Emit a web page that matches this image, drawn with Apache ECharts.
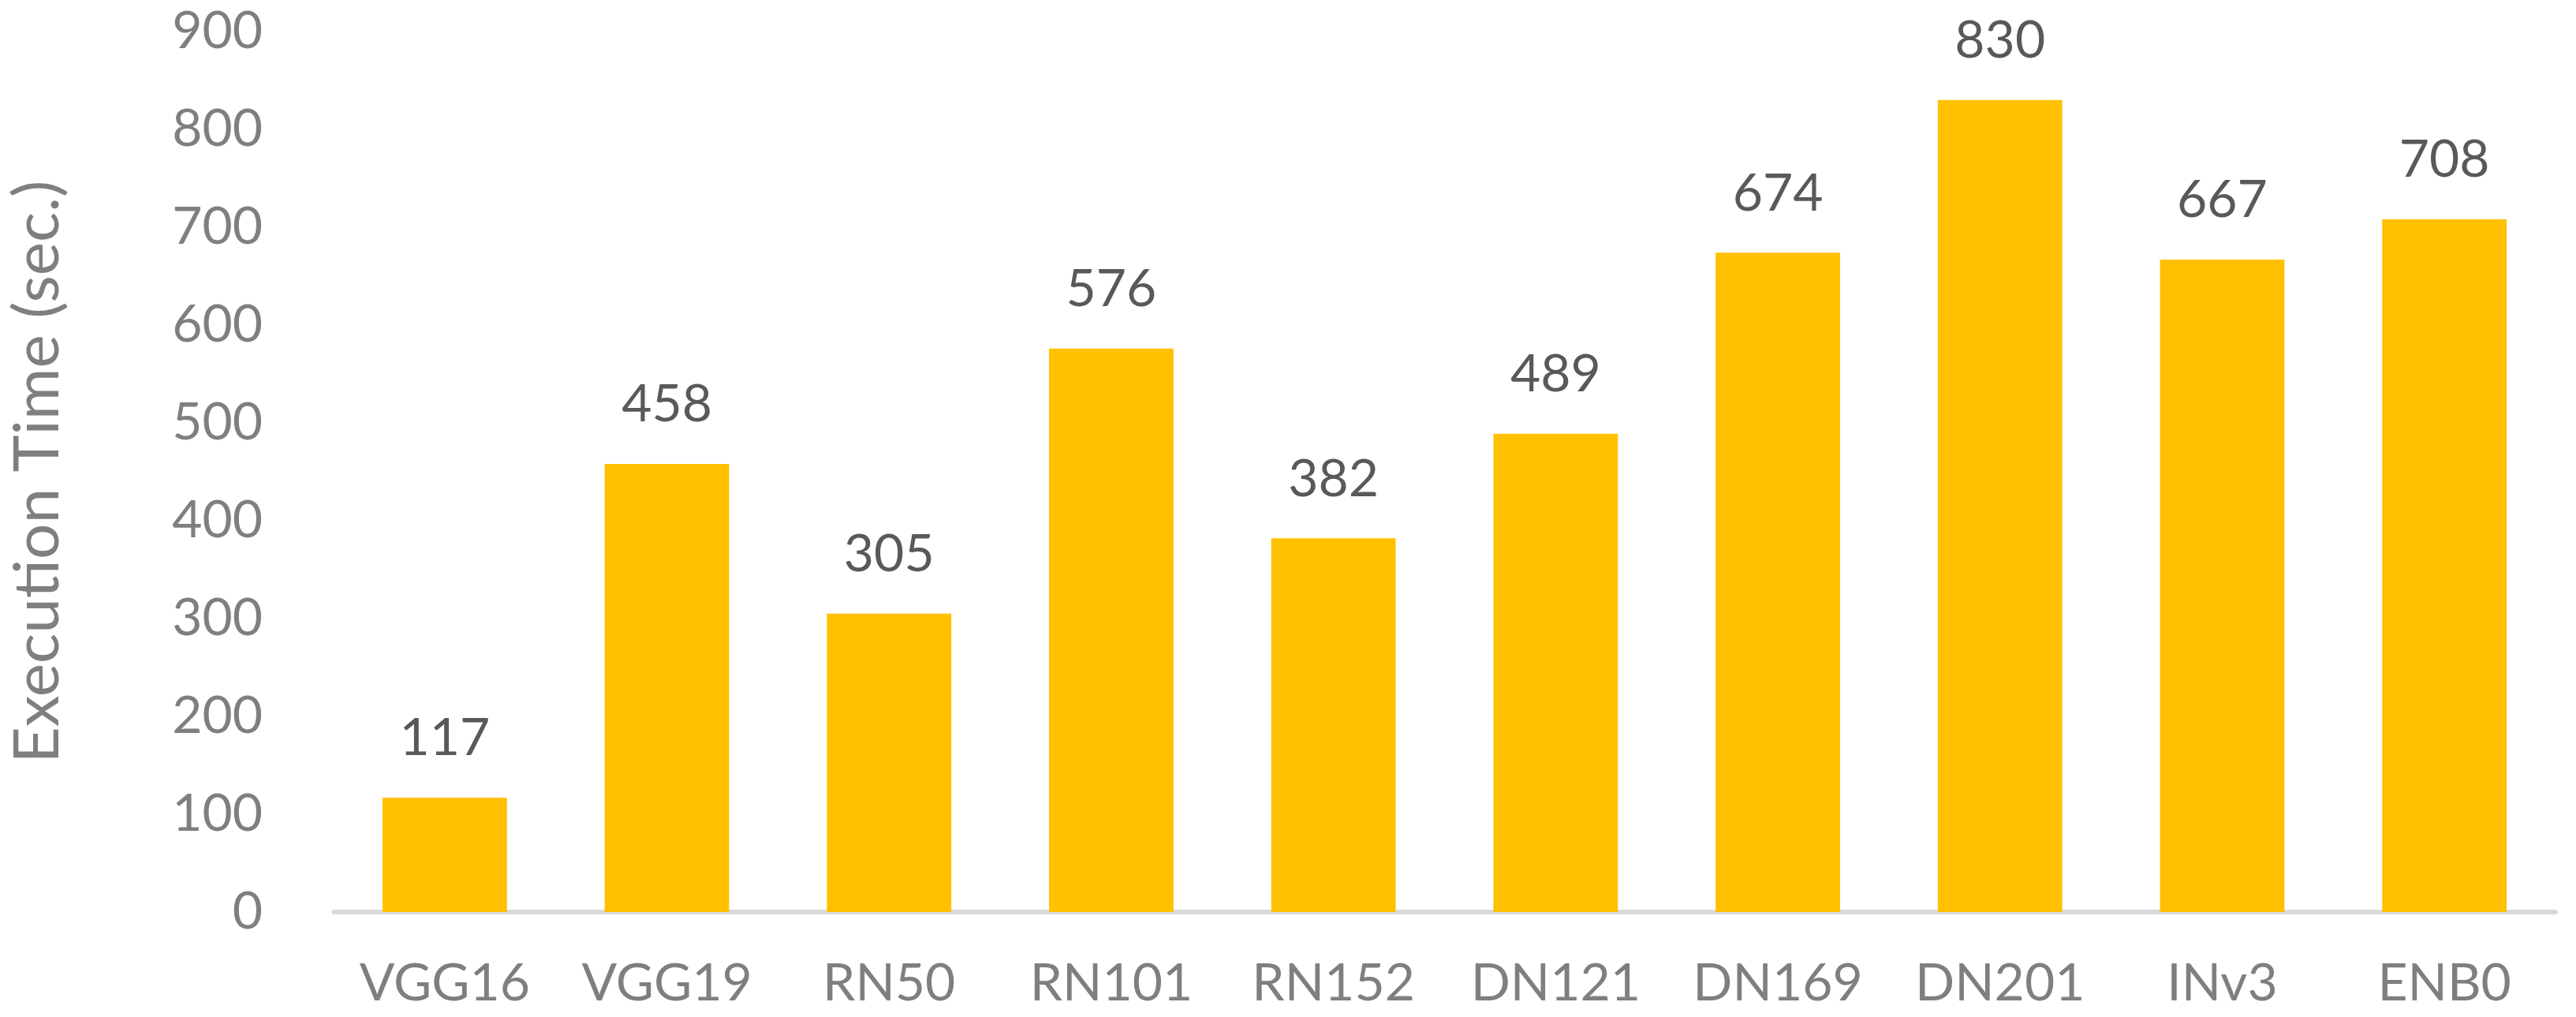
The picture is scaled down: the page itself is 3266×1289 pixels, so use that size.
<!DOCTYPE html>
<html>
<head>
<meta charset="utf-8">
<script src="https://cdn.jsdelivr.net/npm/echarts@6/dist/echarts.min.js"></script>
<style>
  html, body { margin: 0; padding: 0; background: #fff; }
  #chart { width: 3266px; height: 1289px; }
</style>
</head>
<body>
<div id="chart"></div>
<script>
// models and their execution time in seconds
const models = ['VGG16', 'VGG19', 'RN50', 'RN101', 'RN152', 'DN121', 'DN169', 'DN201', 'INv3', 'ENB0']
const execTimes = [117, 458, 305, 576, 382, 489, 674, 830, 667, 708]
const yTicks = { min: 0, max: 900, step: 100 }

const font = 'Lato, "Open Sans", sans-serif'

let myChart = echarts.init(document.getElementById('chart'))
let option = {
  animation: false,
  backgroundColor: '#ffffff',
  grid: { left: 417, right: 26, top: 40, bottom: 133 },
  xAxis: {
    type: 'category',
    data: models,
    axisLine: { lineStyle: { color: '#d9d9d9', width: 6 } },
    axisTick: { show: false },
    axisLabel: { color: '#7f7f7f', fontSize: 66, fontFamily: font, margin: 58 }
  },
  yAxis: {
    type: 'value',
    min: yTicks.min,
    max: yTicks.max,
    interval: yTicks.step,
    name: 'Execution Time (sec.)',
    nameLocation: 'middle',
    nameGap: 335,
    nameTextStyle: { color: '#7f7f7f', fontSize: 80, fontFamily: font },
    axisLine: { show: false },
    axisTick: { show: false },
    splitLine: { show: false },
    axisLabel: { color: '#7f7f7f', fontSize: 66, fontFamily: font, margin: 90 }
  },
  series: [{
    type: 'bar',
    data: execTimes,
    barCategoryGap: '44%',
    itemStyle: { color: '#ffc000' },
    label: {
      show: true,
      position: 'top',
      distance: 42,
      color: '#595959',
      fontSize: 66,
      fontFamily: font
    }
  }]
}
option && myChart.setOption(option)
</script>
</body>
</html>
